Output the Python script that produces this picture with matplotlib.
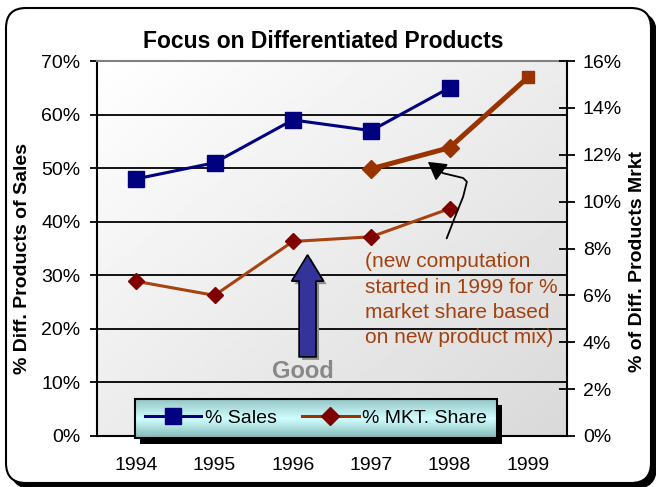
import numpy as np
import matplotlib
matplotlib.use('Agg')
import matplotlib.pyplot as plt
from matplotlib.patches import FancyBboxPatch, Polygon, Rectangle, FancyArrowPatch
from matplotlib.path import Path
from matplotlib.transforms import IdentityTransform

plt.rcParams['font.family'] = ['Liberation Sans', 'DejaVu Sans']

# Data
years = ['1994', '1995', '1996', '1997', '1998', '1999']
sales = [48, 51, 59, 57, 65]                 # % Sales, 1994-1998
mkt_old = [6.6, 6.0, 8.3, 8.5, 9.7]          # % MKT. Share, old computation, 1994-1998
mkt_new = [11.4, 12.3, 15.3]                 # new computation, 1997-1999
left_ticks = [0, 10, 20, 30, 40, 50, 60, 70]
right_ticks = [0, 2, 4, 6, 8, 10, 12, 14, 16]

x = np.arange(len(years))

fig = plt.figure(figsize=(6.56, 4.87), dpi=100)
fig.patch.set_facecolor('white')

# rounded frame with shadow (pixel coords)
fig.add_artist(FancyBboxPatch((11, -1), 645, 475, boxstyle='round,pad=0,rounding_size=20',
                              transform=IdentityTransform(), fc='black', ec='black', zorder=-3))
fig.add_artist(FancyBboxPatch((6, 4), 645, 475, boxstyle='round,pad=0,rounding_size=20',
                              transform=IdentityTransform(), fc='white', ec='black', lw=1.5, zorder=-2))

ax = fig.add_axes([97/656, 51/487, 470/656, 375/487])
ax2 = ax.twinx()

# plot area gradient
u = np.linspace(0, 1, 200)
U, W = np.meshgrid(u, u)
grad = 1.0 - 0.15 * (U + W) / 2
ax.imshow(grad, extent=(0, 1, 0, 1), transform=ax.transAxes, aspect='auto',
          cmap='gray', vmin=0, vmax=1, zorder=0, interpolation='bilinear')

for v in left_ticks[1:-1]:
    ax.axhline(v, color='black', lw=1.3, zorder=1)

ax.plot(x[:5], sales, color='#000080', lw=2.2, marker='s', ms=12, zorder=3, clip_on=False)

ax2.plot(x[:5], mkt_old, color='#A8420F', lw=2.2, marker='D', ms=8,
         mfc='#800000', mec='#800000', zorder=3)
ax2.plot(x[3:], mkt_new, color='#993300', lw=3.6, zorder=3, clip_on=False)
ax2.plot(x[3:5], mkt_new[:2], 'D', color='#993300', ms=9, zorder=3)
ax2.plot(x[5:], mkt_new[2:], 's', color='#993300', ms=9, zorder=3, clip_on=False)

# big "Good" arrow
cx, bw, hw, tip, base, bot = 0.448, 0.018, 0.034, 0.483, 0.413, 0.211
pts = [(cx-bw, bot), (cx-bw, base), (cx-hw, base), (cx, tip), (cx+hw, base), (cx+bw, base), (cx+bw, bot)]
ax2.add_patch(Polygon([(px+0.0064, py-0.008) for px, py in pts], closed=True,
                      transform=ax2.transAxes, fc='#8C8C8C', ec='none', zorder=2))
ax2.add_patch(Polygon(pts, closed=True, transform=ax2.transAxes, fc='#333399', ec='black',
                      lw=1.2, zorder=2))
ax2.text(0.439, 0.171, 'Good', transform=ax2.transAxes, fontsize=17, fontweight='bold',
         color='#888888', ha='center', va='center')

# note and curvy arrow
ax2.text(0.57, 0.49, '(new computation\nstarted in 1999 for %\nmarket share based\non new product mix)',
         transform=ax2.transAxes, fontsize=15, color='#A3410F', ha='left', va='top', linespacing=1.42)
verts = [(0.744, 0.527), (0.762, 0.585), (0.779, 0.638), (0.787, 0.678),
         (0.779, 0.688), (0.736, 0.701), (0.704, 0.731)]
ax2.add_patch(FancyArrowPatch(path=Path(verts), arrowstyle='-|>,head_length=0.6,head_width=0.35',
                              mutation_scale=18, transform=ax2.transAxes, color='black', lw=1.3, zorder=4))

# legend box
lx0, lx1, ly0, ly1 = 0.081, 0.851, -0.005, 0.099
ax2.add_patch(Rectangle((lx0+0.011, ly0-0.016), lx1-lx0, ly1-ly0, transform=ax2.transAxes,
                        fc='black', ec='none', clip_on=False, zorder=5))
t = np.linspace(0, 1, 100)
top_c = np.array([0.58, 0.77, 0.77])
mid_c = np.array([0.82, 1.0, 1.0])
bot_c = np.array([0.52, 0.72, 0.72])
col = np.where(t[:, None] < 0.5, top_c + (mid_c - top_c) * (t[:, None] / 0.5),
               mid_c + (bot_c - mid_c) * ((t[:, None] - 0.5) / 0.5))
ax2.imshow(col[:, None, :], extent=(lx0, lx1, ly0, ly1), transform=ax2.transAxes, aspect='auto',
           zorder=6, clip_on=False, interpolation='bilinear')
ax2.add_patch(Rectangle((lx0, ly0), lx1-lx0, ly1-ly0, transform=ax2.transAxes, fill=False,
                        ec='black', lw=1.5, clip_on=False, zorder=7))
h_sales = plt.Line2D([], [], color='#000080', lw=2.2, marker='s', ms=12)
h_mkt = plt.Line2D([], [], color='#993300', lw=2.2, marker='D', ms=9, mfc='#800000', mec='#800000')
leg = ax2.legend([h_sales, h_mkt], ['% Sales', '% MKT. Share'], loc='center',
                 bbox_to_anchor=(0.466, 0.047), ncol=2, frameon=False, fontsize=14,
                 handlelength=2.9, handletextpad=0.2, columnspacing=1.3)
leg.set_zorder(8)

# axes
ax.set_xlim(-0.5, 5.5)
ax.set_ylim(0, 70)
ax2.set_ylim(0, 16)
ax.set_xticks(x)
ax.set_xticklabels(years)
ax.set_yticks(left_ticks)
ax.set_yticklabels([f'{v}%' for v in left_ticks])
ax2.set_yticks(right_ticks)
ax2.set_yticklabels([f'{v}%' for v in right_ticks])

ax.tick_params(axis='x', length=0, pad=15, labelsize=14)
ax.tick_params(axis='y', direction='out', length=5, width=1.3, pad=7, labelsize=14)
ax2.tick_params(axis='y', direction='inout', length=11, width=1.3, pad=6, labelsize=14)

for s in ['left', 'bottom']:
    ax.spines[s].set_linewidth(1.5)
ax.spines['top'].set_color('#808080')
ax.spines['top'].set_linewidth(1.5)
ax.spines['right'].set_visible(False)
for s in ['left', 'bottom', 'top']:
    ax2.spines[s].set_visible(False)
ax2.spines['right'].set_linewidth(1.5)

fig.text(0.4924, 0.9014, 'Focus on Differentiated Products', fontsize=16.5, fontweight='bold',
         ha='center', va='baseline')
fig.text(23/656, 1 - 259/487, '% Diff. Products of Sales', fontsize=14, fontweight='bold',
         rotation=90, ha='center', va='center')
fig.text(637/656, 1 - 262/487, '% of Diff. Products Mrkt', fontsize=14, fontweight='bold',
         rotation=90, ha='center', va='center')

plt.savefig('out.png', dpi=100)
